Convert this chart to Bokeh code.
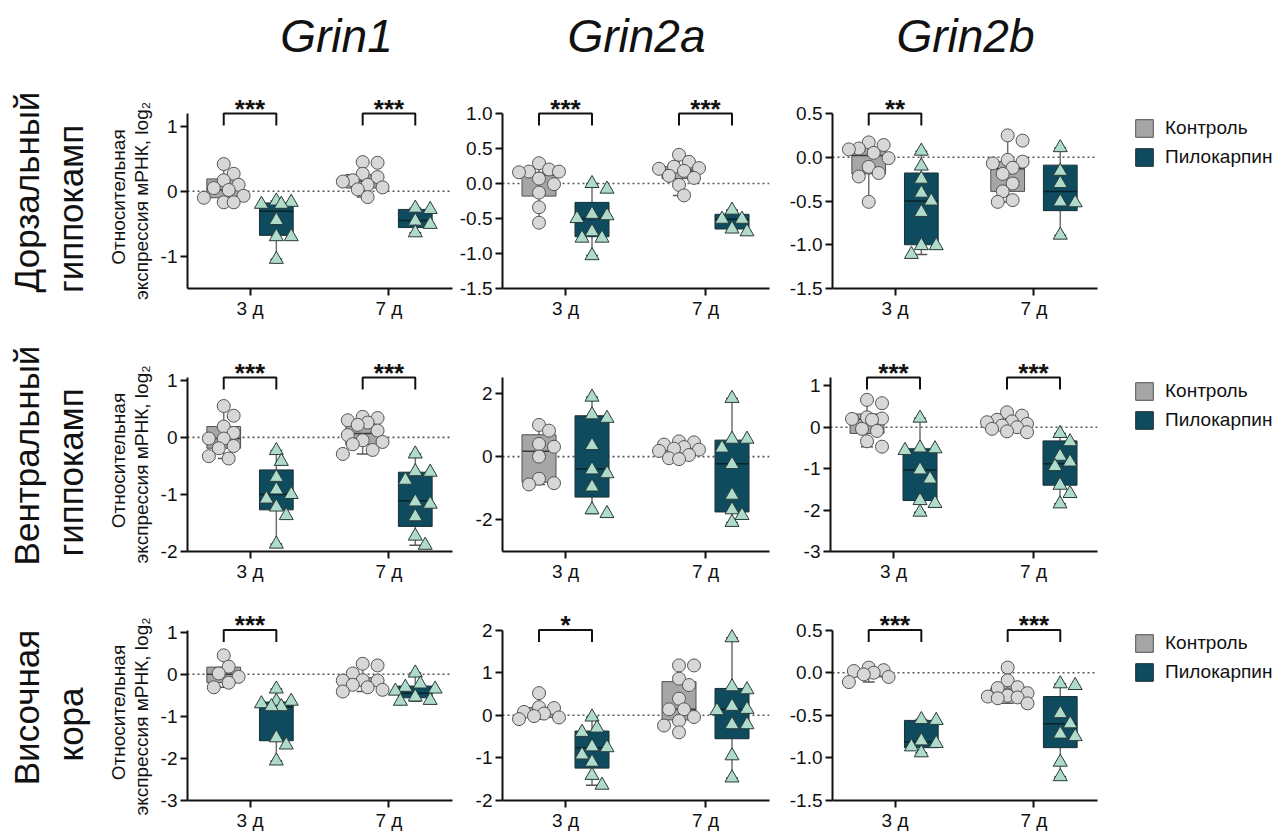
import math
from bokeh.plotting import figure
from bokeh.layouts import row, column
from bokeh.models import Range1d, FixedTicker, Span, Legend, LegendItem
from bokeh.embed import file_html
from bokeh.resources import INLINE
from bokeh.core.properties import value

FONT = "Liberation Sans"

# ---------------- data ----------------
GENES = ["Grin1", "Grin2a", "Grin2b"]
REGIONS = [["Дорзальный", "гиппокамп"], ["Вентральный", "гиппокамп"], ["Височная", "кора"]]
Y_LABEL = ["Относительная", "экспрессия мРНК, log₂"]
DAYS = ["3 д", "7 д"]
GROUPS = ["Контроль", "Пилокарпин"]

Y_LIMITS = [[(-1.5, 1.2), (-1.5, 1.0), (-1.5, 0.5)],
            [(-2.0, 1.05), (-3.0, 2.5), (-3.0, 1.2)],
            [(-3.0, 1.05), (-2.0, 2.0), (-1.5, 0.5)]]
Y_TICKS = [[[-1, 0, 1], [-1.5, -1, -0.5, 0, 0.5, 1], [-1.5, -1, -0.5, 0, 0.5]],
           [[-2, -1, 0, 1], [-2, 0, 2], [-3, -2, -1, 0, 1]],
           [[-3, -2, -1, 0, 1], [-2, -1, 0, 1, 2], [-1.5, -1, -0.5, 0, 0.5]]]
Y_TICK_LABELS = [[["-1", "0", "1"], ["-1.5", "-1.0", "-0.5", "0.0", "0.5", "1.0"], ["-1.5", "-1.0", "-0.5", "0.0", "0.5"]],
                 [["-2", "-1", "0", "1"], ["-2", "0", "2"], ["-3", "-2", "-1", "0", "1"]],
                 [["-3", "-2", "-1", "0", "1"], ["-2", "-1", "0", "1", "2"], ["-1.5", "-1.0", "-0.5", "0.0", "0.5"]]]

# significance per [row][gene][day]
SIGNIF = [[["***", "***"], ["***", "***"], ["**", ""]],
          [["***", "***"], ["", ""], ["***", "***"]],
          [["***", ""], ["*", ""], ["***", "***"]]]

# points: [control 3д, pilocarpine 3д, control 7д, pilocarpine 7д]
# box stats: [min, q1, median, q3, max] in the same order
DH_GRIN1 = [[0.42, 0.27, 0.17, 0.10, 0.05, 0.02, -0.07, -0.10, -0.17, -0.17],
            [-0.15, -0.17, -0.20, -0.20, -0.45, -0.70, -0.70, -1.05],
            [0.45, 0.44, 0.27, 0.22, 0.17, 0.15, 0.10, 0.06, 0.03, -0.09],
            [-0.26, -0.28, -0.46, -0.51, -0.64]]
DH_GRIN1_BOX = [[-0.17, -0.10, 0.02, 0.19, 0.42], [-1.05, -0.68, -0.31, -0.18, -0.15],
                [-0.09, 0.05, 0.16, 0.26, 0.45], [-0.64, -0.56, -0.45, -0.28, -0.26]]
DH_GRIN2A = [[0.29, 0.20, 0.17, 0.17, 0.16, 0.07, -0.01, -0.13, -0.34, -0.56],
             [0.0, -0.08, -0.44, -0.46, -0.50, -0.69, -0.78, -0.78, -1.03],
             [0.41, 0.31, 0.24, 0.22, 0.21, 0.18, 0.11, 0.08, -0.02, -0.17],
             [-0.38, -0.51, -0.51, -0.65, -0.69]]
DH_GRIN2A_BOX = [[-0.56, -0.18, 0.12, 0.16, 0.29], [-1.03, -0.76, -0.50, -0.27, 0.0],
                 [-0.17, 0.07, 0.19, 0.24, 0.41], [-0.69, -0.65, -0.51, -0.44, -0.38]]
DH_GRIN2B = [[0.17, 0.14, 0.10, 0.09, 0.05, -0.01, -0.11, -0.18, -0.22, -0.51],
             [0.07, -0.10, -0.25, -0.41, -0.50, -0.63, -1.01, -1.01, -1.11],
             [0.25, 0.19, -0.03, -0.05, -0.07, -0.12, -0.19, -0.30, -0.39, -0.49, -0.51],
             [0.11, -0.16, -0.30, -0.51, -0.52, -0.89]]
DH_GRIN2B_BOX = [[-0.51, -0.19, 0.02, 0.10, 0.17], [-1.11, -1.00, -0.50, -0.18, 0.07],
                 [-0.51, -0.39, -0.13, -0.05, 0.25], [-0.89, -0.61, -0.39, -0.09, 0.11]]

VH_GRIN1 = [[0.55, 0.38, 0.19, 0.08, -0.02, -0.02, -0.15, -0.19, -0.33, -0.37],
            [-0.23, -0.42, -0.70, -0.92, -1.00, -1.08, -1.22, -1.37, -1.87],
            [0.36, 0.34, 0.30, 0.26, 0.22, 0.12, 0.04, -0.05, -0.08, -0.12, -0.22, -0.29],
            [-0.29, -0.60, -0.61, -0.75, -1.13, -1.17, -1.39, -1.73, -1.89]]
VH_GRIN1_BOX = [[-0.37, -0.19, -0.02, 0.19, 0.55], [-1.87, -1.27, -1.00, -0.57, -0.23],
                [-0.29, -0.13, 0.07, 0.23, 0.37], [-1.89, -1.56, -1.11, -0.61, -0.29]]
VH_GRIN2A = [[1.00, 0.82, 0.40, 0.31, 0.0, -0.70, -0.84, -0.88],
             [1.88, 1.32, 1.21, 0.35, -0.42, -0.54, -0.96, -1.68, -1.80],
             [0.48, 0.45, 0.38, 0.30, 0.25, 0.22, 0.18, 0.05, -0.05, -0.08],
             [1.84, 0.55, 0.55, 0.27, -0.25, -1.22, -1.68, -1.86, -2.08]]
VH_GRIN2A_BOX = [[-0.88, -0.81, 0.17, 0.69, 1.00], [-1.80, -1.28, -0.39, 1.29, 1.88],
                 [-0.08, 0.12, 0.22, 0.33, 0.48], [-2.08, -1.75, -0.23, 0.52, 1.84]]
VH_GRIN2B = [[0.66, 0.58, 0.24, 0.21, 0.20, 0.18, -0.04, -0.09, -0.34, -0.47],
             [0.22, -0.50, -0.52, -0.56, -1.03, -1.25, -1.77, -1.84, -2.05],
             [0.36, 0.28, 0.18, 0.14, 0.12, 0.08, 0.04, 0.0, -0.04, -0.10, -0.12],
             [-0.15, -0.35, -0.70, -0.84, -0.95, -1.40, -1.60, -1.85]]
VH_GRIN2B_BOX = [[-0.47, -0.15, 0.19, 0.32, 0.66], [-2.05, -1.77, -1.03, -0.52, 0.22],
                 [-0.12, -0.04, 0.06, 0.18, 0.36], [-1.85, -1.40, -0.88, -0.33, -0.15]]

TC_GRIN1 = [[0.45, 0.18, 0.02, -0.06, -0.20, -0.31],
            [-0.35, -0.64, -0.64, -0.70, -0.77, -0.77, -1.51, -1.68, -2.06],
            [0.25, 0.21, 0.02, -0.14, -0.15, -0.15, -0.25, -0.31, -0.37, -0.41],
            [0.03, -0.23, -0.31, -0.35, -0.40, -0.54, -0.62, -0.64]]
TC_GRIN1_BOX = [[-0.31, -0.20, 0.0, 0.17, 0.45], [-2.06, -1.58, -0.77, -0.66, -0.35],
                [-0.41, -0.28, -0.18, -0.08, 0.25], [-0.64, -0.56, -0.45, -0.28, 0.03]]
TC_GRIN2A = [[0.52, 0.19, 0.17, 0.08, 0.04, -0.02, -0.05, -0.09],
             [-0.04, -0.30, -0.40, -0.74, -0.76, -0.93, -1.10, -1.41, -1.64],
             [1.17, 1.17, 0.86, 0.71, 0.39, 0.14, 0.14, -0.04, -0.13, -0.24, -0.40],
             [1.82, 0.67, 0.60, 0.21, 0.14, 0.11, -0.22, -0.22, -0.95, -1.47]]
TC_GRIN2A_BOX = [[-0.09, -0.05, 0.08, 0.18, 0.52], [-1.64, -1.24, -0.76, -0.37, -0.04],
                 [-0.40, -0.11, 0.14, 0.79, 1.17], [-1.47, -0.55, 0.14, 0.63, 1.82]]
TC_GRIN2B = [[0.06, 0.03, 0.02, 0.0, -0.02, -0.05, -0.11],
             [-0.55, -0.56, -0.80, -0.83, -0.87, -0.94],
             [0.06, -0.09, -0.17, -0.18, -0.24, -0.27, -0.28, -0.29, -0.30, -0.36],
             [-0.13, -0.15, -0.48, -0.60, -0.72, -0.75, -1.05, -1.22]]
TC_GRIN2B_BOX = [[-0.11, -0.05, -0.01, 0.03, 0.08], [-0.94, -0.88, -0.81, -0.56, -0.55],
                 [-0.36, -0.29, -0.24, -0.18, 0.06], [-1.22, -0.88, -0.60, -0.28, -0.13]]

POINTS = [[DH_GRIN1, DH_GRIN2A, DH_GRIN2B], [VH_GRIN1, VH_GRIN2A, VH_GRIN2B], [TC_GRIN1, TC_GRIN2A, TC_GRIN2B]]
BOXES = [[DH_GRIN1_BOX, DH_GRIN2A_BOX, DH_GRIN2B_BOX], [VH_GRIN1_BOX, VH_GRIN2A_BOX, VH_GRIN2B_BOX],
         [TC_GRIN1_BOX, TC_GRIN2A_BOX, TC_GRIN2B_BOX]]

# ---------------- styles / layout ----------------
CTRL_BOX, CTRL_PT, CTRL_EDGE = "#a6a6a6", "#d7d7d7", "#505050"
PILO_BOX, PILO_PT, PILO_EDGE = "#0e4b5e", "#afdbca", "#1b2e35"
INK = "#111111"

TOTAL_W = 1287
LABEL_W = 157
COL_W = [297, 332, 313]
COL_BL = [28, 48, 44]
COL_BR = [2, 17, 2]
LEG_W = TOTAL_W - LABEL_W - sum(COL_W)
TITLE_H = 70
# row geometry: fig height, axis top px, axis bottom px (from fig top), bottom border, legend first-item centre
ROWS = [dict(h=270, at=43, ab=218, bb=52, leg_c=58),
        dict(h=245, at=37, ab=211, bb=34, leg_c=51),
        dict(h=248, at=45, ab=217, bb=31, leg_c=58)]
FRAME_W = 267
PX_PER_X = 140.0
X_LO = 0.55
X_HI = X_LO + FRAME_W / PX_PER_X
OFF = 26.5 / PX_PER_X
BOX_W = 34 / PX_PER_X
CAP_W = 12 / PX_PER_X


def swarm(vals, ppu):
    d = 11.5
    cands = [0.0]
    for k in range(1, 5):
        cands += [k * 5.0, -k * 5.0]
    placed = []
    xs = [0.0] * len(vals)
    for i in sorted(range(len(vals)), key=lambda j: -vals[j]):
        yp = vals[i] * ppu
        best = None
        bestd, bc = -1, 0.0
        for c in cands:
            md = min([math.hypot(c - px, yp - py) for px, py in placed] or [99])
            if md >= d:
                best = c
                break
            if md > bestd:
                bestd, bc = md, c
        if best is None:
            best = bc
        placed.append((best, yp))
        xs[i] = best / PX_PER_X
    return xs


def bare(p):
    p.outline_line_color = None
    p.xgrid.visible = False
    p.ygrid.visible = False
    p.background_fill_color = "white"
    p.border_fill_color = "white"


def panel(ri, ci):
    g = ROWS[ri]
    lo, hi = Y_LIMITS[ri][ci]
    ppu = (g["ab"] - g["at"]) / (hi - lo)
    top = hi + g["at"] / ppu
    p = figure(width=COL_W[ci], height=g["h"], x_range=Range1d(X_LO, X_HI), y_range=Range1d(lo, top),
               output_backend="svg", toolbar_location=None, title=None,
               min_border_left=COL_BL[ci], min_border_right=COL_BR[ci],
               min_border_top=0, min_border_bottom=g["bb"])
    bare(p)

    p.xaxis.ticker = FixedTicker(ticks=[1, 2])
    p.xaxis.major_label_overrides = {1: DAYS[0], 2: DAYS[1]}
    p.yaxis.ticker = FixedTicker(ticks=Y_TICKS[ri][ci])
    p.yaxis.major_label_overrides = dict(zip(Y_TICKS[ri][ci], Y_TICK_LABELS[ri][ci]))
    p.yaxis.bounds = (lo, hi)
    for ax in (p.xaxis[0], p.yaxis[0]):
        ax.axis_line_width = 2
        ax.axis_line_color = INK
        ax.major_tick_line_width = 2
        ax.major_tick_line_color = INK
        ax.major_tick_out = 7
        ax.major_tick_in = 0
        ax.minor_tick_line_color = None
        ax.major_label_text_font = FONT
        ax.major_label_text_font_size = "19px"
        ax.major_label_text_color = INK
        ax.major_label_standoff = 3
    p.xaxis.major_label_standoff = 2

    p.add_layout(Span(location=0, dimension="width", line_color="#555555", line_dash="2 3",
                      line_width=1.6, level="underlay"))

    pts = POINTS[ri][ci]
    boxes = BOXES[ri][ci]
    for k in range(4):
        day, grp = k // 2, k % 2
        xc = 1 + day + (OFF if grp else -OFF)
        mn, q1, med, q3, mx = boxes[k]
        p.segment(x0=[xc, xc], y0=[mn, q3], x1=[xc, xc], y1=[q1, mx], line_color="#707070", line_width=1.5)
        p.segment(x0=[xc - CAP_W / 2] * 2, y0=[mn, mx], x1=[xc + CAP_W / 2] * 2, y1=[mn, mx],
                  line_color="#555555", line_width=1.5)
        p.quad(left=[xc - BOX_W / 2], right=[xc + BOX_W / 2], bottom=[q1], top=[q3],
               fill_color=PILO_BOX if grp else CTRL_BOX, line_color=PILO_EDGE if grp else CTRL_EDGE,
               line_width=1)
        p.segment(x0=[xc - BOX_W / 2], y0=[med], x1=[xc + BOX_W / 2], y1=[med],
                  line_color="#0a222b" if grp else "#3a3a3a", line_width=1.5)
    for k in range(4):
        day, grp = k // 2, k % 2
        xc = 1 + day + (OFF if grp else -OFF)
        vals = pts[k]
        xs = [xc + dx for dx in swarm(vals, ppu)]
        if grp:
            p.scatter(xs, vals, marker="triangle", size=14, fill_color=PILO_PT, line_color="#2b3a3a",
                      line_width=1)
        else:
            p.scatter(xs, vals, marker="circle", size=13, fill_color=CTRL_PT, line_color="#555555",
                      line_width=1)

    leg = 12 / ppu
    for day in range(2):
        s = SIGNIF[ri][ci][day]
        if not s:
            continue
        xl, xr = 1 + day - OFF, 1 + day + OFF
        p.multi_line(xs=[[xl, xl, xr, xr]], ys=[[hi - leg, hi, hi, hi - leg]], line_color=INK, line_width=2)
        p.text(x=[(xl + xr) / 2], y=[hi + 5 / ppu], text=[s], text_font=value(FONT), text_font_style="bold",
               text_font_size="26px", text_align="center", text_baseline="middle", text_color=INK)
    return p


def plain_fig(width, height):
    p = figure(width=width, height=height, x_range=Range1d(0, width), y_range=Range1d(0, height),
               output_backend="svg", toolbar_location=None, title=None,
               x_axis_location=None, y_axis_location=None, min_border=0)
    bare(p)
    return p


def label_fig(ri):
    g = ROWS[ri]
    h = g["h"]
    p = plain_fig(LABEL_W, h)
    ac = (g["at"] + g["ab"]) / 2  # axis centre, px from top

    def lab(x, y_top, text, size):
        p.text(x=[x], y=[h - y_top], text=[text], angle=math.pi / 2, text_font=value(FONT),
               text_font_size=size, text_align="center", text_baseline="middle", text_color=INK)

    lab(26, ac - 9, REGIONS[ri][0], "35px")
    lab(70, ac + 8, REGIONS[ri][1], "35px")
    lab(118, ac - 4, Y_LABEL[0], "19px")
    lab(141, ac, Y_LABEL[1], "19px")
    return p


def legend_fig(ri):
    g = ROWS[ri]
    h = g["h"]
    p = plain_fig(LEG_W, h)
    # swatches drawn off-screen; only their legend entries are visible
    r1 = p.quad(left=[-30], right=[-20], top=[-20], bottom=[-30], fill_color=CTRL_BOX, line_color=CTRL_EDGE,
                line_width=1)
    r2 = p.quad(left=[-30], right=[-20], top=[-20], bottom=[-30], fill_color=PILO_BOX, line_color=PILO_EDGE,
                line_width=1)
    lg = Legend(items=[LegendItem(label=GROUPS[0], renderers=[r1]), LegendItem(label=GROUPS[1], renderers=[r2])],
                location=(34, h - (g["leg_c"] + 40)), glyph_width=22, glyph_height=22, label_height=22,
                spacing=7, label_standoff=10, padding=0, margin=0, border_line_color=None,
                background_fill_alpha=0, label_text_font=FONT, label_text_font_size="19px",
                label_text_color=INK, label_text_baseline="middle")
    p.add_layout(lg)
    return p


title = plain_fig(TOTAL_W, TITLE_H)
title.text(x=[336, 636, 965], y=[TITLE_H - 35] * 3, text=GENES, text_font=value(FONT), text_font_style="italic",
           text_font_size="46px", text_align="center", text_baseline="middle", text_color=INK)

labels_col = column(*[label_fig(ri) for ri in range(3)])
panels_col = column(*[row(panel(ri, 0), panel(ri, 1), panel(ri, 2)) for ri in range(3)])
legends_col = column(*[legend_fig(ri) for ri in range(3)])
layout = column(title, row(labels_col, panels_col, legends_col))

open("out.html", "w").write(file_html(layout, INLINE))
